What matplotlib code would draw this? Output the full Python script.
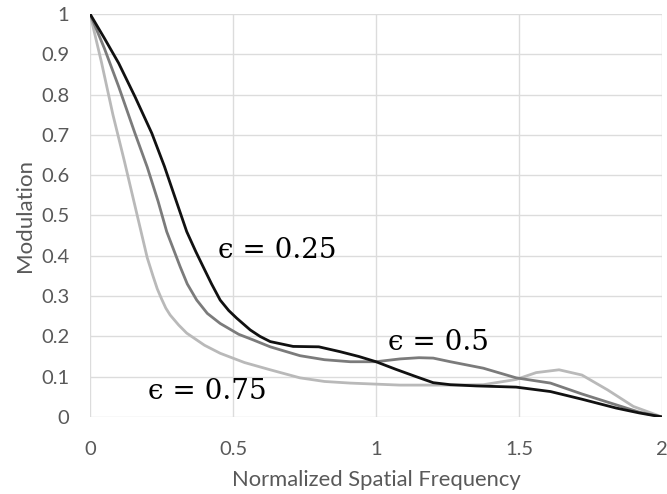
import matplotlib.pyplot as plt

# Values
x_025 = [0, 0.05, 0.1, 0.157, 0.216, 0.26, 0.297, 0.338, 0.37, 0.396, 0.425, 0.455, 0.485, 0.513,
         0.56, 0.594, 0.63, 0.71, 0.8, 0.874, 0.94, 1.0, 1.07, 1.14, 1.2, 1.26, 1.35, 1.49,
         1.61, 1.72, 1.84, 1.92, 2.0]
y_025 = [1, 0.94, 0.878, 0.795, 0.704, 0.622, 0.545, 0.46, 0.41, 0.372, 0.33, 0.29, 0.264, 0.245,
         0.216, 0.2, 0.187, 0.175, 0.174, 0.162, 0.15, 0.137, 0.118, 0.1, 0.085, 0.08, 0.077, 0.074,
         0.063, 0.044, 0.022, 0.01, 0]

x_05 = [0, 0.05, 0.1, 0.157, 0.2, 0.238, 0.268, 0.315, 0.34, 0.373, 0.41, 0.455, 0.52, 0.571,
        0.63, 0.734, 0.82, 0.91, 1.0, 1.084, 1.15, 1.2, 1.26, 1.375, 1.49, 1.61, 1.72, 1.84,
        1.92, 2.0]
y_05 = [1, 0.915, 0.82, 0.704, 0.62, 0.535, 0.46, 0.373, 0.33, 0.29, 0.257, 0.232, 0.205, 0.191,
        0.174, 0.152, 0.142, 0.137, 0.137, 0.144, 0.147, 0.146, 0.137, 0.121, 0.097, 0.084, 0.057, 0.03,
        0.012, 0]

x_075 = [0, 0.04, 0.08, 0.12, 0.155, 0.185, 0.2, 0.22, 0.235, 0.25, 0.265, 0.28, 0.31, 0.338,
         0.4, 0.455, 0.54, 0.63, 0.734, 0.82, 0.91, 1.084, 1.26, 1.375, 1.49, 1.56, 1.64, 1.72,
         1.81, 1.9, 2.0]
y_075 = [1, 0.88, 0.75, 0.635, 0.53, 0.44, 0.395, 0.35, 0.318, 0.293, 0.27, 0.253, 0.228, 0.208,
         0.178, 0.158, 0.135, 0.117, 0.097, 0.088, 0.084, 0.079, 0.079, 0.08, 0.093, 0.11, 0.117, 0.104,
         0.067, 0.026, 0]

x_ticks = [0, 0.5, 1, 1.5, 2]
x_ticklabels = ['0', '0.5', '1', '1.5', '2']
y_ticks = [0, 0.1, 0.2, 0.3, 0.4, 0.5, 0.6, 0.7, 0.8, 0.9, 1]
y_ticklabels = ['0', '0.1', '0.2', '0.3', '0.4', '0.5', '0.6', '0.7', '0.8', '0.9', '1']

plt.rcParams['font.family'] = ['Lato', 'DejaVu Sans']

fig = plt.figure(figsize=(6.67, 4.94), dpi=100)
ax = fig.add_axes([0.135, 0.156, 0.8575, 0.8157])

ax.plot(x_075, y_075, color='#b9b9b9', lw=2)
ax.plot(x_05, y_05, color='#7b7b7b', lw=2)
ax.plot(x_025, y_025, color='#111111', lw=2)

ax.set_xlim(0, 2)
ax.set_ylim(0, 1)
ax.set_xticks(x_ticks)
ax.set_xticklabels(x_ticklabels)
ax.set_yticks(y_ticks)
ax.set_yticklabels(y_ticklabels)
ax.grid(True, color='#dcdcdc', lw=1)
ax.set_axisbelow(True)
for s in ax.spines.values():
    s.set_visible(False)
ax.tick_params(length=0, labelsize=14.5, colors='#595959')
ax.tick_params(axis='x', pad=17)
ax.tick_params(axis='y', pad=15)

ax.set_xlabel('Normalized Spatial Frequency', fontsize=15.8, color='#595959', labelpad=9)
ax.set_ylabel('Modulation', fontsize=16, color='#595959', labelpad=4)

serif = ['DejaVu Serif']
ax.text(0.654, 0.412, 'ϵ = 0.25', fontsize=20, family=serif, ha='center', va='center')
ax.text(1.22, 0.185, 'ϵ = 0.5', fontsize=20, family=serif, ha='center', va='center')
ax.text(0.41, 0.062, 'ϵ = 0.75', fontsize=20, family=serif, ha='center', va='center')

fig.savefig('out.png', dpi=100)
